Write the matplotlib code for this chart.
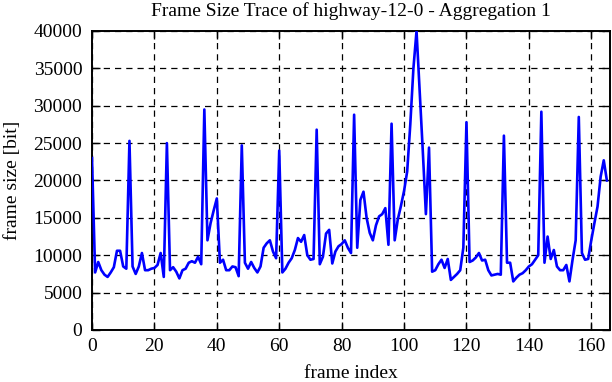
import matplotlib
matplotlib.use("Agg")
import matplotlib.pyplot as plt
import numpy as np

title = "Frame Size Trace of highway-12-0 - Aggregation 1"
xlabel = "frame index"
ylabel = "frame size [bit]"

frame_size = [
    23000, 7700, 9100, 8000, 7400, 7100, 7700, 8400, 10600, 10600,   # 0-9
    8500, 8200, 25300, 8500, 7500, 8500, 10300, 8000, 8000, 8200,    # 10-19
    8300, 8700, 10300, 7100, 25000, 8000, 8400, 7800, 6900, 8000,    # 20-29
    8200, 9000, 9200, 9000, 9800, 8800, 29500, 12000, 14300, 16000,  # 30-39
    17600, 9000, 9400, 8000, 8000, 8500, 8400, 7200, 24700, 9000,    # 40-49
    8200, 9100, 8300, 7700, 8500, 11000, 11600, 12000, 10500, 9600,  # 50-59
    24000, 7700, 8200, 9000, 9600, 10700, 12300, 11800, 12700, 10000,  # 60-69
    9400, 9500, 26800, 8800, 9800, 12900, 13400, 8900, 10500, 11200,  # 70-79
    11500, 12000, 11000, 10300, 28800, 11000, 17400, 18500, 15000, 13000,  # 80-89
    12000, 14000, 15200, 15500, 16300, 11400, 27600, 12000, 14800, 16600,  # 90-99
    18600, 21200, 27500, 35000, 40000, 32000, 24000, 15500, 24400, 7800,  # 100-109
    8000, 8800, 9400, 8300, 9500, 6700, 7100, 7500, 8000, 11000,      # 110-119
    27800, 9100, 9300, 9700, 10300, 9300, 9400, 8000, 7300, 7400,     # 120-129
    7500, 7400, 26000, 9000, 9000, 6500, 7000, 7400, 7600, 8000,      # 130-139
    8500, 8800, 9400, 10000, 29200, 9000, 12500, 9500, 10700, 8500,   # 140-149
    8000, 8000, 8700, 6500, 9400, 12000, 28500, 10300, 9400, 9500,    # 150-159
    12000, 14300, 16500, 20500, 22700, 20000,                         # 160-165
]
frame_index = list(range(len(frame_size)))

x_ticks = [0, 20, 40, 60, 80, 100, 120, 140, 160]
y_ticks = [0, 5000, 10000, 15000, 20000, 25000, 30000, 35000, 40000]

plt.rcParams['font.family'] = ['Liberation Serif', 'DejaVu Serif']

fig = plt.figure(figsize=(6.12, 3.82), dpi=100)
ax = fig.add_axes([92/612, 1-330/382, (610-92)/612, (330-31)/382])

ax.plot(frame_index, frame_size, color='#0000ff', linewidth=1.9, zorder=3)

ax.set_xlim(0, 166)
ax.set_ylim(0, 40000)
ax.set_xticks(x_ticks)
ax.set_yticks(y_ticks)
ax.set_xticklabels([str(v) for v in x_ticks])
ax.set_yticklabels([str(v) for v in y_ticks])

ax.grid(True, color='black', linestyle=(0, (5, 4)), linewidth=0.9)
ax.tick_params(direction='in', length=6, width=1, top=True, right=True,
               labelsize=14, colors='black')
ax.tick_params(axis='y', pad=7)
ax.tick_params(axis='x', pad=6)
for s in ax.spines.values():
    s.set_linewidth(1.4)
    s.set_color('black')

ax.set_title(title, fontsize=14, pad=11)
ax.set_xlabel(xlabel, fontsize=14, labelpad=7)
ax.set_ylabel(ylabel, fontsize=14, labelpad=9)

fig.savefig("out.png", dpi=100)
